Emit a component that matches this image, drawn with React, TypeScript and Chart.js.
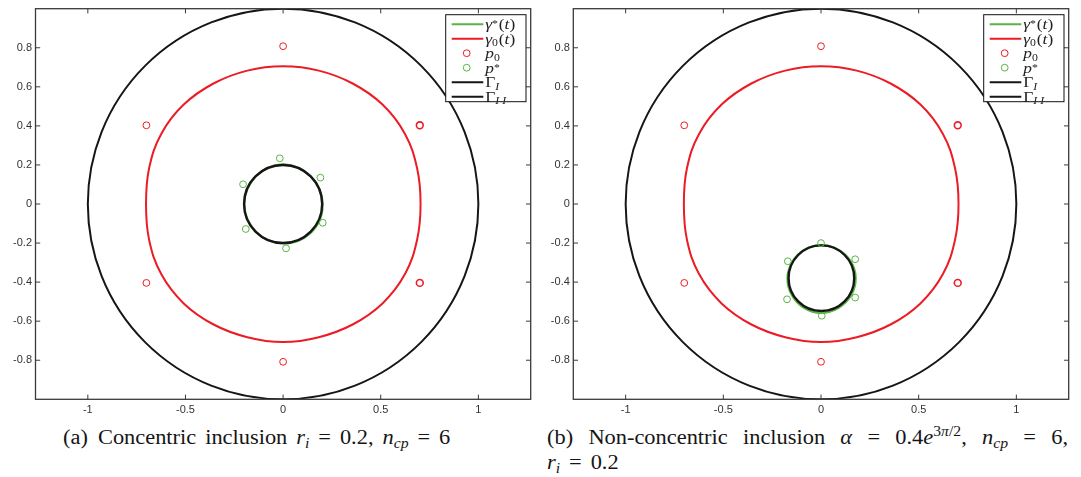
import React, { useEffect, useRef } from 'react';
import { Chart, registerables } from 'chart.js';

Chart.register(...registerables);

// Axis ticks shared by both panels
const xTickValues = [-1, -0.5, 0, 0.5, 1];
const xTickLabels = ['-1', '-0.5', '0', '0.5', '1'];
const yTickValues = [-0.8, -0.6, -0.4, -0.2, 0, 0.2, 0.4, 0.6, 0.8];
const yTickLabels = ['-0.8', '-0.6', '-0.4', '-0.2', '0', '0.2', '0.4', '0.6', '0.8'];
const xLimits = [-1.268, 1.268];
const yLimits = [-1, 1];

// Initial curve gamma_0(t), sampled every 15 degrees starting at angle 0
const gamma0X = [0.704, 0.686, 0.6235, 0.509, 0.3565, 0.183, 0, -0.183, -0.3565, -0.509, -0.6235, -0.686,
  -0.702, -0.686, -0.6235, -0.509, -0.356, -0.183, 0, 0.183, 0.356, 0.509, 0.6235, 0.686];
const gamma0Y = [0, 0.184, 0.36, 0.509, 0.617, 0.683, 0.705, 0.683, 0.617, 0.509, 0.36, 0.184,
  0, -0.184, -0.36, -0.509, -0.617, -0.682, -0.707, -0.682, -0.617, -0.509, -0.36, -0.184];

// Reconstructed curve gamma*(t), panel (a) and panel (b)
const gammaStarAX = [0.203, 0.173, 0.1, 0, -0.1, -0.171, -0.198, -0.171, -0.1, 0, 0.102, 0.178];
const gammaStarAY = [0, 0.1, 0.173, 0.203, 0.173, 0.099, 0, -0.099, -0.173, -0.202, -0.177, -0.103];
const gammaStarBX = [0.178, 0.152, 0.0855, 0, -0.085, -0.147, -0.172, -0.15, -0.088, 0, 0.0885, 0.154];
const gammaStarBY = [-0.38, -0.292, -0.232, -0.211, -0.233, -0.295, -0.38, -0.4665, -0.532, -0.558, -0.533, -0.469];

// Collocation points p0 (same in both panels)
const p0X = [0, -0.7, 0.7, -0.7, 0.7, 0];
const p0Y = [0.808, 0.403, 0.403, -0.404, -0.404, -0.808];
const p0Stroke = [1, 1, 1.6, 1, 1.6, 1];

// Recovered points p*, panel (a) and panel (b)
const pStarAX = [-0.017, 0.191, -0.205, 0.203, -0.191, 0.015];
const pStarAY = [0.234, 0.135, 0.101, -0.096, -0.128, -0.227];
const pStarBX = [0.0, 0.175, -0.17, 0.175, -0.174, 0.004];
const pStarBY = [-0.2, -0.283, -0.293, -0.479, -0.488, -0.572];

// Boundaries: Gamma_II (outer) and Gamma_I (inclusion), per panel
const outerRadius = [1, 1];
const inclusionCenterX = [0, 0.002];
const inclusionCenterY = [0, -0.38];
const inclusionRadius = [0.2, 0.168];

const RED = '#ec1c24';
const GREEN = '#58b443';
const BLACK = '#161616';
const AXIS = '#3a3a3a';
const SERIF = '"Liberation Serif", "DejaVu Serif", serif';
const SANS = '"Liberation Sans", Arial, sans-serif';
const STRETCH = 1.12;

type Seg = { t: string; it?: boolean; s?: 'sub' | 'sup'; gap?: number };

const legendItems: { kind: 'line' | 'marker'; color: string; label: Seg[] }[] = [
  { kind: 'line', color: GREEN, label: [{ t: 'γ', it: true }, { t: '*', s: 'sup' }, { t: '(' }, { t: 't', it: true }, { t: ')' }] },
  { kind: 'line', color: RED, label: [{ t: 'γ', it: true }, { t: '0', s: 'sub' }, { t: '(' }, { t: 't', it: true }, { t: ')' }] },
  { kind: 'marker', color: RED, label: [{ t: 'p', it: true }, { t: '0', s: 'sub' }] },
  { kind: 'marker', color: GREEN, label: [{ t: 'p', it: true }, { t: '*', s: 'sup' }] },
  { kind: 'line', color: BLACK, label: [{ t: 'Γ' }, { t: 'I', it: true, s: 'sub' }] },
  { kind: 'line', color: BLACK, label: [{ t: 'Γ' }, { t: 'I', it: true, s: 'sub', gap: 2 }, { t: 'I', it: true, s: 'sub' }] },
];

function drawRich(ctx: CanvasRenderingContext2D, x: number, baseY: number, segs: Seg[], size: number) {
  ctx.save();
  ctx.translate(x, baseY);
  ctx.scale(STRETCH, 1);
  ctx.textBaseline = 'alphabetic';
  ctx.textAlign = 'left';
  let cx = 0;
  for (const sg of segs) {
    const fs = sg.s ? size * 0.68 : size;
    ctx.font = `${sg.it ? 'italic ' : ''}${fs}px ${SERIF}`;
    const dy = sg.s === 'sub' ? size * 0.17 : sg.s === 'sup' ? -size * 0.12 : 0;
    ctx.fillText(sg.t, cx, dy);
    cx += ctx.measureText(sg.t).width + (sg.s ? 0.8 : 0) + (sg.gap || 0);
  }
  ctx.restore();
}

// Closed curve: one extra sample on each side keeps the joint smooth;
// the two padding segments are left unstroked.
function closedLoop(xs: number[], ys: number[]) {
  const n = xs.length;
  const pts = [];
  for (let i = -1; i <= n + 1; i++) {
    const k = (i + n) % n;
    pts.push({ x: xs[k], y: ys[k] });
  }
  return pts;
}

function loopSegments(n: number) {
  return {
    borderColor: (c: any) => (c.p0DataIndex === 0 || c.p0DataIndex === n + 1 ? 'rgba(0,0,0,0)' : undefined),
  };
}

function pointsOf(xs: number[], ys: number[]) {
  return xs.map((x, i) => ({ x, y: ys[i] }));
}

function makeDecor(panel: number) {
  return {
    id: 'panelDecor' + panel,
    beforeDatasetDraw(chart: any, args: any) {
      if (args.index !== 2) return;
      const { ctx, chartArea: a, scales } = chart;
      const sx = scales.x;
      const sy = scales.y;
      const ring = (cx: number, cy: number, r: number, w: number) => {
        const px = sx.getPixelForValue(cx);
        const py = sy.getPixelForValue(cy);
        const rx = sx.getPixelForValue(cx + r) - px;
        const ry = py - sy.getPixelForValue(cy + r);
        ctx.beginPath();
        ctx.lineWidth = w;
        ctx.strokeStyle = BLACK;
        ctx.ellipse(px, py, rx, ry, 0, 0, Math.PI * 2);
        ctx.stroke();
      };
      ctx.save();
      ctx.beginPath();
      ctx.rect(a.left, a.top, a.right - a.left, a.bottom - a.top);
      ctx.clip();
      ring(0, 0, outerRadius[panel], 2);
      ring(inclusionCenterX[panel], inclusionCenterY[panel], inclusionRadius[panel], 2.4);
      ctx.restore();
    },
    afterDraw(chart: any) {
      const { ctx, chartArea: a, scales } = chart;
      const sx = scales.x;
      const sy = scales.y;
      ctx.save();
      // frame and inward ticks on all four sides
      ctx.strokeStyle = AXIS;
      ctx.lineWidth = 1.3;
      ctx.strokeRect(a.left, a.top, a.right - a.left, a.bottom - a.top);
      ctx.lineWidth = 1;
      ctx.beginPath();
      const tl = 4.7;
      xTickValues.forEach((v) => {
        const p = sx.getPixelForValue(v);
        ctx.moveTo(p, a.bottom);
        ctx.lineTo(p, a.bottom - tl);
        ctx.moveTo(p, a.top);
        ctx.lineTo(p, a.top + tl);
      });
      yTickValues.forEach((v) => {
        const p = sy.getPixelForValue(v);
        ctx.moveTo(a.left, p);
        ctx.lineTo(a.left + tl, p);
        ctx.moveTo(a.right, p);
        ctx.lineTo(a.right - tl, p);
      });
      ctx.stroke();
      // tick labels
      ctx.fillStyle = '#333';
      ctx.font = `11px ${SANS}`;
      ctx.textBaseline = 'middle';
      ctx.textAlign = 'center';
      xTickValues.forEach((v, i) => {
        ctx.fillText(xTickLabels[i], sx.getPixelForValue(v), a.bottom + 10.5);
      });
      ctx.textAlign = 'right';
      yTickValues.forEach((v, i) => {
        ctx.fillText(yTickLabels[i], a.left - 3.5, sy.getPixelForValue(v));
      });
      // legend
      const lw = 80.3;
      const lh = 87;
      const lx = a.right - 4.7 - lw;
      const ly = a.top + 6;
      ctx.fillStyle = '#fff';
      ctx.fillRect(lx, ly, lw, lh);
      ctx.strokeStyle = '#111';
      ctx.lineWidth = 1;
      ctx.strokeRect(lx, ly, lw, lh);
      legendItems.forEach((it, i) => {
        const ry = ly + 9.5 + i * 14.5;
        if (it.kind === 'line') {
          ctx.strokeStyle = it.color;
          ctx.lineWidth = 2;
          ctx.beginPath();
          ctx.moveTo(lx + 6, ry);
          ctx.lineTo(lx + 37.6, ry);
          ctx.stroke();
        } else {
          ctx.strokeStyle = it.color;
          ctx.lineWidth = 1;
          ctx.beginPath();
          ctx.arc(lx + 21, ry, 3.4, 0, Math.PI * 2);
          ctx.stroke();
        }
        ctx.fillStyle = '#222';
        drawRich(ctx, lx + 39.5, ry + 4.8, it.label, 15.5);
      });
      ctx.restore();
    },
  };
}

function Panel({ panel, left, width, padLeft, padRight }: { panel: number; left: number; width: number; padLeft: number; padRight: number }) {
  const ref = useRef<HTMLCanvasElement>(null);
  useEffect(() => {
    const starX = panel === 0 ? gammaStarAX : gammaStarBX;
    const starY = panel === 0 ? gammaStarAY : gammaStarBY;
    const psX = panel === 0 ? pStarAX : pStarBX;
    const psY = panel === 0 ? pStarAY : pStarBY;
    const chart = new Chart(ref.current as HTMLCanvasElement, {
      type: 'scatter',
      data: {
        datasets: [
          {
            data: closedLoop(gamma0X, gamma0Y),
            showLine: true,
            borderColor: RED,
            borderWidth: 2,
            pointRadius: 0,
            tension: 0.4,
            segment: loopSegments(gamma0X.length),
            order: 4,
          },
          {
            data: closedLoop(starX, starY),
            showLine: true,
            borderColor: GREEN,
            borderWidth: 2,
            pointRadius: 0,
            tension: 0.4,
            segment: loopSegments(starX.length),
            order: 3,
          },
          {
            data: pointsOf(p0X, p0Y),
            showLine: false,
            pointRadius: 3.4,
            pointBorderWidth: p0Stroke,
            pointBorderColor: RED,
            pointBackgroundColor: 'rgba(0,0,0,0)',
            order: 2,
          },
          {
            data: pointsOf(psX, psY),
            showLine: false,
            pointRadius: 3.4,
            pointBorderWidth: 1,
            pointBorderColor: GREEN,
            pointBackgroundColor: 'rgba(0,0,0,0)',
            order: 1,
          },
        ] as any,
      },
      options: {
        responsive: false,
        animation: false,
        events: [],
        devicePixelRatio: 1,
        layout: { padding: { left: padLeft, right: padRight, top: 8.7, bottom: 420 - 399.3 } },
        plugins: { legend: { display: false }, tooltip: { enabled: false } },
        scales: {
          x: { type: 'linear', min: xLimits[0], max: xLimits[1], display: false },
          y: { type: 'linear', min: yLimits[0], max: yLimits[1], display: false },
        },
      },
      plugins: [makeDecor(panel)],
    });
    return () => chart.destroy();
  }, [panel, padLeft, padRight]);
  return (
    <canvas
      ref={ref}
      width={width}
      height={420}
      style={{ position: 'absolute', left, top: 0, width, height: 420 }}
    />
  );
}

const capBase: React.CSSProperties = {
  position: 'absolute',
  fontFamily: SERIF,
  fontSize: 20,
  lineHeight: '25px',
  color: '#151515',
  whiteSpace: 'nowrap',
  transform: `scaleX(${STRETCH})`,
  transformOrigin: '0 0',
  wordSpacing: 3,
};
const subS: React.CSSProperties = { fontSize: '0.7em', verticalAlign: '-0.3em', lineHeight: 0, fontStyle: 'italic' };
const supS: React.CSSProperties = { fontSize: '0.7em', verticalAlign: '0.55em', lineHeight: 0 };

export default function App() {
  return (
    <div style={{ position: 'fixed', left: 0, top: 0, width: 1081, height: 477, background: '#fff', overflow: 'hidden' }}>
      <Panel panel={0} left={0} width={540} padLeft={35.5} padRight={540 - 530.7} />
      <Panel panel={1} left={540} width={541} padLeft={33.3} padRight={541 - 528.7} />
      <div style={{ ...capBase, left: 63, top: 425 }}>
        (a)<span style={{ marginLeft: 9 }}>Concentric inclusion </span>
        <i>r</i><span style={subS}>i</span> = 0.2, <i>n</i><span style={subS}>cp</span> = 6
      </div>
      <div style={{ ...capBase, left: 547, top: 425, width: 521 / STRETCH, whiteSpace: 'normal', textAlign: 'justify', textAlignLast: 'justify', wordSpacing: 0 }}>
        (b) Non-concentric inclusion <i>α</i> = 0.4<i>e</i>
        <span style={supS}>3<i>π</i>/2</span>, <i>n</i><span style={subS}>cp</span> = 6,
      </div>
      <div style={{ ...capBase, left: 547, top: 450 }}>
        <i>r</i><span style={subS}>i</span> = 0.2
      </div>
    </div>
  );
}
